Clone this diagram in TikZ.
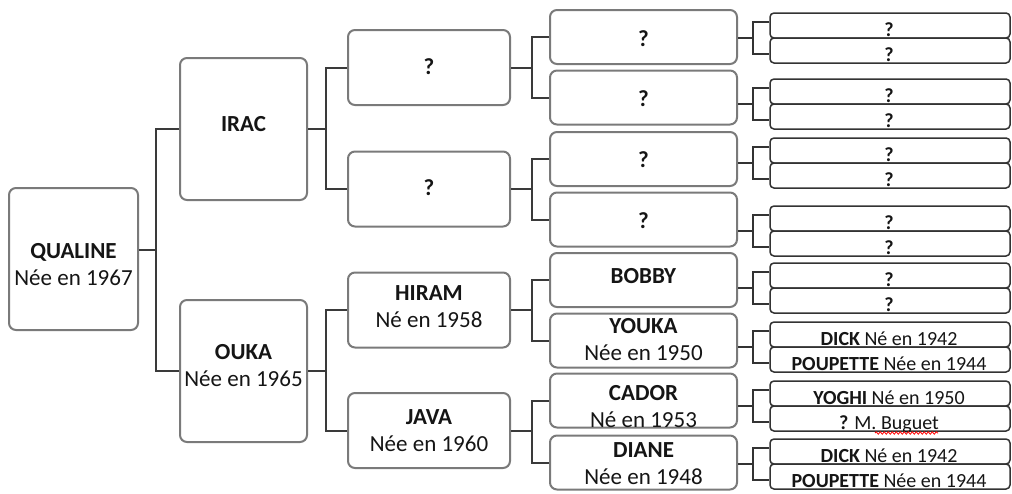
\documentclass[tikz,border=0pt]{standalone}
\usepackage{fontspec}
\setmainfont{Carlito}
\usetikzlibrary{calc,decorations.pathmorphing}
\definecolor{boxgray}{HTML}{7A7A7A}
\definecolor{conncol}{HTML}{3A3A3A}
\definecolor{sgray}{HTML}{333333}
\definecolor{txt}{HTML}{151515}
\newcommand\forkto[4]{% #1 parent, #2 child top, #3 child bottom, #4 gap
  \draw[conn] (#2.west) -- ++(-#4,0) coordinate (#2k) |- (#3.west);
  \draw[conn] (#1.east) -- (#1.east -| #2k);}
\newcommand\boxtext[6]{% #1 style, #2 name, #3 x, #4 y, #5 vertical text shift, #6 text
  \node[#1] (#2) at (#3,#4) {};
  \node[btext] (#2t) at ($(#2.center)+(0,#5)$) {#6};}
\newcommand\pairbox[5]{% #1 name, #2 mid y, #3 parent, #4 top text, #5 bottom text
  \node[sbox] (#1t) at (890,#2-12.5) {};
  \node[sbox] (#1b) at (890,#2+12.5) {};
  \node[stext] (#1tt) at (889,#2-2) {#4};
  \node[stext] (#1bt) at (889,#2+23) {#5};
  \coordinate (#1j) at (753,#2);
  \draw[sconn] (#3.east |- #1j) -- (#1j);
  \draw[sconn] ($(#1t.west)+(0,-3.5)$) -| (#1j) |- ($(#1b.west)+(0,3.5)$);}
\begin{document}
\begin{tikzpicture}[x=1pt,y=-1pt,
  bbox/.style={draw=boxgray, line width=2pt, rounded corners=7pt, fill=white, inner sep=0pt},
  btext/.style={inner sep=0pt, align=center, text=txt, font=\fontsize{23}{27}\selectfont},
  c1/.style={bbox, minimum width=129pt, minimum height=142pt},
  c2/.style={bbox, minimum width=127pt, minimum height=142pt},
  c3/.style={bbox, minimum width=162pt, minimum height=75pt},
  c4/.style={bbox, minimum width=187pt, minimum height=54pt},
  sbox/.style={draw=sgray, line width=1.5pt, rounded corners=4pt, minimum width=240pt,
    minimum height=25pt, inner sep=0pt},
  stext/.style={anchor=base, inner sep=0pt, text=txt, font=\fontsize{20}{24}\selectfont},
  conn/.style={draw=conncol, line width=2pt},
  sconn/.style={draw=sgray, line width=1.6pt}]
\useasboundingbox (0,0) rectangle (1012,493);
\fill[white] (0,0) rectangle (1012,493);

% column 1
\boxtext{c1}{q}{73.5}{259}{5.5}{\textbf{QUALINE}\\Née en 1967}
% column 2
\boxtext{c2}{irac}{243.5}{129}{-5}{\textbf{IRAC}}
\boxtext{c2}{ouka}{243.5}{371}{-5}{\textbf{OUKA}\\Née en 1965}
% column 3
\boxtext{c3}{g1}{429}{67.5}{-1}{\textbf{?}}
\boxtext{c3}{g2}{429}{189}{-1}{\textbf{?}}
\boxtext{c3}{hiram}{429}{310}{-3}{\textbf{HIRAM}\\Né en 1958}
\boxtext{c3}{java}{429}{430.5}{0}{\textbf{JAVA}\\Née en 1960}
% column 4
\boxtext{c4}{a1}{643.5}{37}{2}{\textbf{?}}
\boxtext{c4}{a2}{643.5}{97.5}{1}{\textbf{?}}
\boxtext{c4}{a3}{643.5}{159}{1}{\textbf{?}}
\boxtext{c4}{a4}{643.5}{219.5}{1}{\textbf{?}}
\boxtext{c4}{bobby}{643.5}{280}{-4}{\textbf{BOBBY}}
\boxtext{c4}{youka}{643.5}{340.5}{-1}{\textbf{YOUKA}\\Née en 1950}
\boxtext{c4}{cador}{643.5}{400.5}{6}{\textbf{CADOR}\\Né en 1953}
\boxtext{c4}{diane}{643.5}{462.5}{1.5}{\textbf{DIANE}\\Née en 1948}

% connectors col1 -> col2
\draw[conn] (irac.west) -- ++(-23,0) coordinate (k1) |- (ouka.west);
\coordinate (qo) at ($(q.east)+(0,-9)$);
\draw[conn] (qo) -- (qo -| k1);
% col2 -> col3
\forkto{irac}{g1}{g2}{21}
\forkto{ouka}{hiram}{java}{21}
% col3 -> col4
\forkto{g1}{a1}{a2}{17}
\forkto{g2}{a3}{a4}{17}
\forkto{hiram}{bobby}{youka}{17}
\forkto{java}{cador}{diane}{17}

% column 5
\pairbox{p1}{38}{a1}{\textbf{?}}{\textbf{?}}
\pairbox{p2}{104}{a2}{\textbf{?}}{\textbf{?}}
\pairbox{p3}{163}{a3}{\textbf{?}}{\textbf{?}}
\pairbox{p4}{231}{a4}{\textbf{?}}{\textbf{?}}
\pairbox{p5}{288}{bobby}{\textbf{?}}{\textbf{?}}
\pairbox{p6}{347}{youka}{\textbf{DICK} Né en 1942}{\textbf{POUPETTE} Née en 1944}
\pairbox{p7}{406}{cador}{\textbf{YOGHI} Né en 1950}{\textbf{?} M. Buguet}
\pairbox{p8}{464}{diane}{\textbf{DICK} Né en 1942}{\textbf{POUPETTE} Née en 1944}

% spell-check underline
\draw[red, line width=0.8pt, decorate, decoration={snake, amplitude=1.2pt, segment length=4pt}]
  ($(p7bt.base)+(-14,4)$) -- ($(p7bt.base)+(49,4)$);
\end{tikzpicture}
\end{document}
